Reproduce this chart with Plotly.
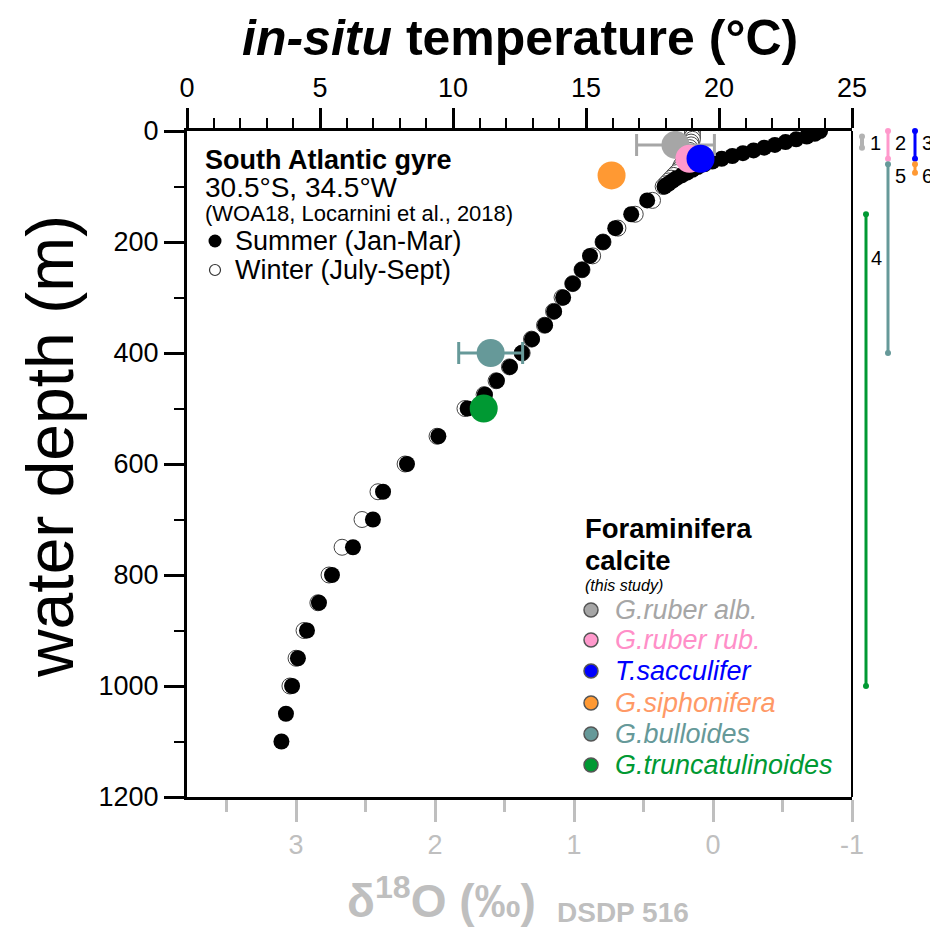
import plotly.graph_objects as go

# ---------------- data ----------------
depth = [0, 5, 10, 15, 20, 25, 30, 35, 40, 45, 50, 55, 60, 65, 70, 75, 80, 85, 90, 95, 100,
         125, 150, 175, 200, 225, 250, 275, 300, 325, 350, 375, 400, 425, 450, 475, 500,
         550, 600, 650, 700, 750, 800, 850, 900, 950, 1000, 1050, 1100]
summer_T = [23.8, 23.6, 23.3, 22.9, 22.5, 22.1, 21.7, 21.3, 20.9, 20.5, 20.1, 19.75, 19.45,
            19.2, 19.0, 18.8, 18.6, 18.4, 18.25, 18.1, 17.95,
            17.3, 16.7, 16.1, 15.64, 15.15, 14.85, 14.5, 14.14, 13.8, 13.46, 12.97, 12.59,
            12.14, 11.65, 11.2, 10.55,
            9.45, 8.27, 7.37, 6.99, 6.24, 5.45, 4.96, 4.51, 4.17, 3.95, 3.72, 3.55]

winter_depth = [0, 5, 10, 15, 20, 25, 30, 35, 40, 45, 50, 55, 60, 65, 70, 75, 80, 85, 90, 95, 100,
                125, 150, 175, 200, 225, 250, 275, 300, 325, 350, 375, 400, 425, 450, 475, 500,
                550, 600, 650, 700, 750, 800, 850, 900, 950, 1000]
winter_T = [19.0, 19.0, 19.0, 19.0, 18.95, 18.95, 18.9, 18.9, 18.85, 18.8, 18.75, 18.7, 18.6,
            18.55, 18.5, 18.4, 18.3, 18.2, 18.1, 18.0, 17.9,
            17.5, 16.85, 16.2, 15.64, 15.25, 14.85, 14.5, 14.1, 13.78, 13.44, 12.95, 12.6,
            12.12, 11.62, 11.17, 10.45,
            9.4, 8.2, 7.18, 6.58, 5.83, 5.34, 4.92, 4.40, 4.10, 3.87]

foram_names = ["G.ruber alb.", "G.ruber rub.", "T.sacculifer", "G.siphonifera",
               "G.bulloides", "G.truncatulinoides"]
foram_d18O = [0.27, 0.17, 0.09, 0.73, 1.60, 1.65]
foram_err = [0.28, None, None, None, 0.23, None]
foram_depth = [25, 50, 50, 80, 400, 500]

# habitat depth ranges (right side)
range_labels = ["1", "2", "3", "4", "5", "6"]
range_top = [10, 0, 0, 150, 60, 60]
range_bottom = [30, 50, 50, 1000, 400, 75]

temp_ticks = [0, 5, 10, 15, 20, 25]
d18O_ticks = [3, 2, 1, 0, -1]
d18O_minor = [3.5, 2.5, 1.5, 0.5, -0.5]
depth_ticks = [0, 200, 400, 600, 800, 1000, 1200]

season_names = ["Summer (Jan-Mar)", "Winter (July-Sept)"]

# ---------------- styles / layout positions (screen px) ----------------
FONT = "Arial, 'Liberation Sans', Arimo, sans-serif"
foram_fill = ["#a6a6a6", "#ff99cc", "#0000ff", "#ff9933", "#669999", "#009933"]
foram_text = ["#a6a6a6", "#ff8fc8", "#0000ff", "#ff9966", "#669999", "#009933"]
range_colors = ["#b3b3b3", "#ff99cc", "#0000ff", "#009933", "#669999", "#ff9933"]
range_width = [4, 3, 3, 3, 3, 3]
range_column = [10, 36, 63, 14, 36, 63]          # px inside right strip
label_dx = [13, 12, 12, 10, 12, 12]
label_depth = [22, 22, 22, 229, 81, 81]
GREY = "#bfbfbf"

OFF = 8                      # page body margin of the html page
SW, SH = 938, 929            # screen size
L, R, T, B = 187, 852, 131, 797   # plot frame in screen px
W, H = SW - OFF, SH - OFF
MAIN_END = (R - L) / (SW - L)

leg1_x_text, leg1_x_mark = 233, 215
leg1_rows = [241, 270]
leg2_x_text, leg2_x_mark = 613, 591
leg2_rows = [610, 640, 671, 703, 734, 765]


def px_x(x):
    return (x - L) / (SW - L)


def px_y(y):
    return (B - y) / (B - T)


fig = go.Figure()


def foram_trace(i):
    err = None
    if foram_err[i] is not None:
        err = dict(type="data", array=[foram_err[i]], color=foram_fill[i],
                   thickness=3, width=11)
    return go.Scatter(x=[foram_d18O[i]], y=[foram_depth[i]], xaxis="x2", yaxis="y",
                      mode="markers", showlegend=False, error_x=err, name=foram_names[i],
                      marker=dict(size=28, color=foram_fill[i], line=dict(width=0)))


fig.add_trace(foram_trace(0))
fig.add_trace(go.Scatter(x=winter_T, y=winter_depth, xaxis="x", yaxis="y", mode="markers",
                         showlegend=False, name=season_names[1],
                         marker=dict(size=16, color="white", line=dict(width=1, color="#444"))))
fig.add_trace(go.Scatter(x=summer_T, y=depth, xaxis="x", yaxis="y", mode="markers",
                         showlegend=False, name=season_names[0],
                         marker=dict(size=16, color="black", line=dict(width=0))))
for i in range(1, 6):
    fig.add_trace(foram_trace(i))

# right-hand habitat ranges
for i in range(len(range_labels)):
    fig.add_trace(go.Scatter(x=[range_column[i], range_column[i]],
                             y=[range_top[i], range_bottom[i]],
                             xaxis="x3", yaxis="y", mode="lines+markers", showlegend=False,
                             cliponaxis=False,
                             line=dict(color=range_colors[i], width=range_width[i]),
                             marker=dict(size=6, color=range_colors[i])))
    fig.add_annotation(x=range_column[i] + label_dx[i], y=label_depth[i], xref="x3", yref="y",
                       text=range_labels[i], showarrow=False, xanchor="center", yanchor="middle",
                       font=dict(size=20, color="black"))

# ---- key symbols (drawn on a hidden overlay scaled in screen px) ----
fig.add_trace(go.Scatter(x=[leg1_x_mark], y=[leg1_rows[0]], xaxis="x4", yaxis="y2",
                         mode="markers", showlegend=False, hoverinfo="skip",
                         marker=dict(size=13, color="black")))
fig.add_trace(go.Scatter(x=[leg1_x_mark], y=[leg1_rows[1]], xaxis="x4", yaxis="y2",
                         mode="markers", showlegend=False, hoverinfo="skip",
                         marker=dict(size=11, color="white", line=dict(width=1.2, color="#333"))))
fig.add_trace(go.Scatter(x=[leg2_x_mark] * 6, y=leg2_rows, xaxis="x4", yaxis="y2",
                         mode="markers", showlegend=False, hoverinfo="skip",
                         marker=dict(size=14, color=foram_fill, line=dict(width=1.5, color="#555"))))


def px_text(x, y, text, size, color="black", xanchor="left", **kw):
    fig.add_annotation(x=px_x(x), y=px_y(y), xref="paper", yref="paper",
                       text=text, showarrow=False, xanchor=xanchor, yanchor="middle",
                       font=dict(size=size, color=color), **kw)


# key 1
px_text(203, 160, "<b>South Atlantic gyre</b>", 27)
px_text(203, 187, "30.5°S, 34.5°W", 28)
px_text(203, 213, "(WOA18, Locarnini et al., 2018)", 22)
px_text(leg1_x_text, leg1_rows[0], season_names[0], 27)
px_text(leg1_x_text, leg1_rows[1], season_names[1], 27)

# key 2
px_text(583, 528, "<b>Foraminifera</b>", 27.5)
px_text(583, 560, "<b>calcite</b>", 27.5)
px_text(583, 585, "<i>(this study)</i>", 16)
for i in range(6):
    px_text(leg2_x_text, leg2_rows[i], f"<i>{foram_names[i]}</i>", 27, color=foram_text[i])

# titles
px_text((L + R) / 2, 38, "<b><i>in-situ</i> temperature (°C)</b>", 50, xanchor="center")
px_text(345, 898, "<b>δ<sup>18</sup>O (‰)</b>", 46, color=GREY)
px_text(555, 912, "<b>DSDP 516</b>", 28, color=GREY)

# vertical axis title as a label of an invisible box (no padding box around the text)
YT_X, YT_Y = 44, 446
shapes = [
    dict(type="line", xref="x domain", yref="y domain", x0=1, x1=1, y0=0, y1=1,
         line=dict(color="black", width=2)),
    dict(type="rect", xref="paper", yref="paper",
         x0=px_x(YT_X - 10), x1=px_x(YT_X + 10), y0=px_y(YT_Y + 260), y1=px_y(YT_Y - 260),
         line=dict(width=0), fillcolor="rgba(0,0,0,0)",
         label=dict(text="water depth (m)", textangle=-90, textposition="middle center",
                    font=dict(size=66, color="black", family=FONT))),
]

fig.update_layout(
    width=W, height=H,
    margin=dict(l=L - OFF, r=0, t=T - OFF, b=SH - B, autoexpand=False),
    paper_bgcolor="white", plot_bgcolor="white",
    font=dict(family=FONT, color="black"),
    showlegend=False,
    xaxis=dict(domain=[0, MAIN_END], range=[0, 25], side="top", anchor="y",
               tickmode="array", tickvals=temp_ticks,
               ticks="outside", ticklen=20, tickwidth=2.5, tickcolor="black",
               minor=dict(dtick=1, tick0=0, ticks="outside", ticklen=10, tickwidth=2,
                          tickcolor="black"),
               showline=True, linewidth=3, linecolor="black", showgrid=False, zeroline=False,
               tickfont=dict(size=27)),
    xaxis2=dict(overlaying="x", side="bottom", anchor="y", range=[3.785, -1], autorange=False,
                tickmode="array", tickvals=d18O_ticks, ticktext=[str(v) for v in d18O_ticks],
                ticks="outside", ticklen=22, tickwidth=3, tickcolor=GREY,
                minor=dict(tickmode="array", tickvals=d18O_minor, ticks="outside", ticklen=12,
                           tickwidth=3, tickcolor=GREY),
                showline=True, linewidth=3, linecolor="black", showgrid=False, zeroline=False,
                tickfont=dict(size=27, color=GREY)),
    xaxis3=dict(domain=[MAIN_END, 1], range=[0, SW - R], visible=False, anchor="y"),
    xaxis4=dict(overlaying="x", range=[L, R], autorange=False, visible=False, anchor="y2"),
    yaxis=dict(range=[1200, 0], autorange=False, anchor="x",
               tickmode="array", tickvals=depth_ticks,
               ticks="outside", ticklen=20, tickwidth=2.5, tickcolor="black",
               minor=dict(dtick=100, tick0=0, ticks="outside", ticklen=10, tickwidth=2,
                          tickcolor="black"),
               showline=True, linewidth=3, linecolor="black", showgrid=False, zeroline=False,
               tickfont=dict(size=27)),
    yaxis2=dict(overlaying="y", range=[B, T], autorange=False, visible=False, anchor="x4"),
    shapes=shapes,
)

fig.write_html("out.html")
